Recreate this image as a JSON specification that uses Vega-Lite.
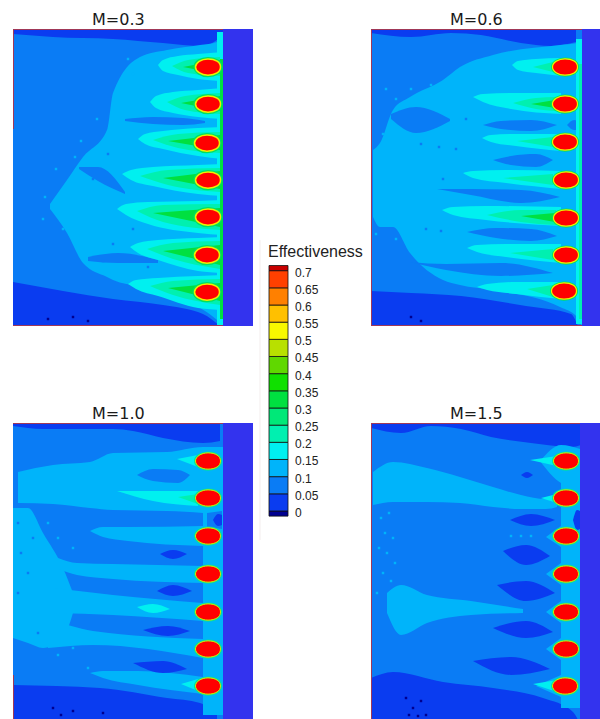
{"$schema":"https://vega.github.io/schema/vega-lite/v6.json","padding":{"left":13,"top":12,"right":0,"bottom":0},"background":"white","spacing":6,
"config":{"view":{"stroke":null},"title":{"font":"DejaVu Sans","fontSize":16,"fontWeight":"normal","color":"#1a1a1a","anchor":"start","frame":"group","offset":0,"dx":79,"dy":3}},
"datasets":{
"holes":[{"p":"a","x":195,"y":38},{"p":"a","x":195,"y":75},{"p":"a","x":194,"y":114},{"p":"a","x":195,"y":151},{"p":"a","x":195,"y":188},{"p":"a","x":194,"y":226},{"p":"a","x":194,"y":263},
{"p":"b","x":194,"y":38},{"p":"b","x":194,"y":75},{"p":"b","x":194,"y":113},{"p":"b","x":195,"y":151},{"p":"b","x":195,"y":189},{"p":"b","x":195,"y":226},{"p":"b","x":193,"y":262},
{"p":"c","x":195,"y":38},{"p":"c","x":195,"y":75},{"p":"c","x":195,"y":113},{"p":"c","x":195,"y":151},{"p":"c","x":195,"y":189},{"p":"c","x":195,"y":226},{"p":"c","x":195,"y":263},
{"p":"d","x":195,"y":38},{"p":"d","x":195,"y":75},{"p":"d","x":195,"y":113},{"p":"d","x":195,"y":151},{"p":"d","x":195,"y":189},{"p":"d","x":195,"y":226},{"p":"d","x":194,"y":263}],
"spk":[
{"p":"a","e":0.1,"x":32,"y":168},{"p":"a","e":0.1,"x":30,"y":190},{"p":"a","e":0.1,"x":43,"y":140},{"p":"a","e":0.1,"x":50,"y":200},{"p":"a","e":0.1,"x":62,"y":128},{"p":"a","e":0.1,"x":68,"y":112},{"p":"a","e":0.1,"x":84,"y":90},{"p":"a","e":0.1,"x":120,"y":45},{"p":"a","e":0.1,"x":115,"y":30},{"p":"a","e":0.05,"x":80,"y":150},{"p":"a","e":0.05,"x":95,"y":125},{"p":"a","e":0.05,"x":100,"y":215},{"p":"a","e":0.05,"x":120,"y":200},{"p":"a","e":0.05,"x":90,"y":232},{"p":"a","e":0.05,"x":135,"y":238},{"p":"a","e":"base","x":35,"y":290},{"p":"a","e":"base","x":60,"y":288},{"p":"a","e":"base","x":75,"y":292},
{"p":"b","e":0.1,"x":15,"y":60},{"p":"b","e":0.1,"x":25,"y":70},{"p":"b","e":0.1,"x":12,"y":105},{"p":"b","e":0.1,"x":40,"y":60},{"p":"b","e":0.1,"x":60,"y":56},{"p":"b","e":0.1,"x":5,"y":205},{"p":"b","e":0.1,"x":25,"y":210},{"p":"b","e":0.05,"x":50,"y":115},{"p":"b","e":0.05,"x":68,"y":118},{"p":"b","e":0.05,"x":72,"y":150},{"p":"b","e":0.05,"x":85,"y":120},{"p":"b","e":0.05,"x":55,"y":200},{"p":"b","e":0.05,"x":70,"y":202},{"p":"b","e":0.05,"x":95,"y":90},{"p":"b","e":"base","x":40,"y":288},{"p":"b","e":"base","x":50,"y":292},
{"p":"c","e":0.1,"x":35,"y":100},{"p":"c","e":0.1,"x":45,"y":115},{"p":"c","e":0.1,"x":40,"y":130},{"p":"c","e":0.1,"x":60,"y":125},{"p":"c","e":0.1,"x":60,"y":225},{"p":"c","e":0.1,"x":45,"y":232},{"p":"c","e":0.1,"x":75,"y":245},{"p":"c","e":0.05,"x":5,"y":100},{"p":"c","e":0.05,"x":8,"y":130},{"p":"c","e":0.05,"x":15,"y":150},{"p":"c","e":0.05,"x":5,"y":170},{"p":"c","e":0.05,"x":20,"y":115},{"p":"c","e":0.05,"x":25,"y":210},{"p":"c","e":"base","x":40,"y":285},{"p":"c","e":"base","x":48,"y":292},{"p":"c","e":"base","x":60,"y":288},{"p":"c","e":"base","x":90,"y":290},
{"p":"d","e":0.1,"x":10,"y":95},{"p":"d","e":0.1,"x":18,"y":90},{"p":"d","e":0.1,"x":14,"y":110},{"p":"d","e":0.1,"x":22,"y":115},{"p":"d","e":0.1,"x":8,"y":125},{"p":"d","e":0.1,"x":16,"y":130},{"p":"d","e":0.1,"x":24,"y":140},{"p":"d","e":0.1,"x":12,"y":150},{"p":"d","e":0.1,"x":20,"y":158},{"p":"d","e":0.1,"x":6,"y":170},{"p":"d","e":0.1,"x":140,"y":113},{"p":"d","e":0.1,"x":150,"y":113},{"p":"d","e":0.1,"x":160,"y":113},{"p":"d","e":"base","x":35,"y":275},{"p":"d","e":"base","x":42,"y":285},{"p":"d","e":"base","x":50,"y":278},{"p":"d","e":"base","x":55,"y":292},{"p":"d","e":"base","x":38,"y":292},{"p":"d","e":"base","x":47,"y":293}],
"a":[
{"k":1,"e":0.05,"x":0,"y":0,"y2":297},{"k":1,"e":0.05,"x":210,"y":0,"y2":297},
{"k":2,"e":0,"x":0,"y":0,"y2":5},{"k":2,"e":0,"x":40,"y":0,"y2":8},{"k":2,"e":0,"x":100,"y":0,"y2":10},{"k":2,"e":0,"x":150,"y":0,"y2":14},{"k":2,"e":0,"x":190,"y":0,"y2":17},{"k":2,"e":0,"x":210,"y":0,"y2":6},
{"k":3,"e":0,"x":0,"y":253,"y2":297},{"k":3,"e":0,"x":50,"y":262,"y2":297},{"k":3,"e":0,"x":100,"y":270,"y2":297},{"k":3,"e":0,"x":150,"y":276,"y2":297},{"k":3,"e":0,"x":190,"y":285,"y2":297},{"k":3,"e":0,"x":207,"y":297,"y2":297},
{"k":4,"e":0.1,"x":37,"y":175,"y2":180},{"k":4,"e":0.1,"x":54,"y":151,"y2":204},{"k":4,"e":0.1,"x":70,"y":128,"y2":234},{"k":4,"e":0.1,"x":94,"y":101,"y2":248},{"k":4,"e":0.1,"x":100,"y":64,"y2":251},{"k":4,"e":0.1,"x":127,"y":28,"y2":258},{"k":4,"e":0.1,"x":154,"y":21,"y2":268},{"k":4,"e":0.1,"x":187,"y":16,"y2":279},{"k":4,"e":0.1,"x":204,"y":13,"y2":291},{"k":4,"e":0.1,"x":210,"y":10,"y2":297},
{"k":5,"e":0.05,"x":112,"y":90,"y2":92},{"k":5,"e":0.05,"x":140,"y":88,"y2":95},{"k":5,"e":0.05,"x":170,"y":89,"y2":96},{"k":5,"e":0.05,"x":192,"y":92,"y2":94},
{"k":6,"e":0.05,"x":66,"y":138,"y2":140},{"k":6,"e":0.05,"x":85,"y":138,"y2":152},{"k":6,"e":0.05,"x":112,"y":163,"y2":165},
{"k":7,"e":0.05,"x":75,"y":228,"y2":232},{"k":7,"e":0.05,"x":105,"y":224,"y2":234},{"k":7,"e":0.05,"x":145,"y":231,"y2":234},
{"k":8,"e":0.15,"x":145,"y":36,"y2":36},{"k":8,"e":0.15,"x":150,"y":31,"y2":42},{"k":8,"e":0.15,"x":165,"y":27,"y2":46},{"k":8,"e":0.15,"x":185,"y":25,"y2":50},{"k":8,"e":0.15,"x":210,"y":23,"y2":52},
{"k":9,"e":0.15,"x":137,"y":73,"y2":73},{"k":9,"e":0.15,"x":143,"y":67,"y2":79},{"k":9,"e":0.15,"x":160,"y":63,"y2":84},{"k":9,"e":0.15,"x":185,"y":61,"y2":88},{"k":9,"e":0.15,"x":210,"y":59,"y2":90},
{"k":10,"e":0.15,"x":125,"y":110,"y2":110},{"k":10,"e":0.15,"x":132,"y":105,"y2":115},{"k":10,"e":0.15,"x":150,"y":102,"y2":120},{"k":10,"e":0.15,"x":185,"y":99,"y2":127},{"k":10,"e":0.15,"x":210,"y":98,"y2":130},
{"k":11,"e":0.15,"x":109,"y":145,"y2":145},{"k":11,"e":0.15,"x":118,"y":141,"y2":151},{"k":11,"e":0.15,"x":140,"y":138,"y2":157},{"k":11,"e":0.15,"x":185,"y":136,"y2":165},{"k":11,"e":0.15,"x":210,"y":135,"y2":167},
{"k":12,"e":0.15,"x":104,"y":180,"y2":180},{"k":12,"e":0.15,"x":113,"y":175,"y2":186},{"k":12,"e":0.15,"x":135,"y":173,"y2":195},{"k":12,"e":0.15,"x":185,"y":172,"y2":204},{"k":12,"e":0.15,"x":210,"y":171,"y2":206},
{"k":13,"e":0.15,"x":117,"y":218,"y2":218},{"k":13,"e":0.15,"x":125,"y":214,"y2":224},{"k":13,"e":0.15,"x":145,"y":211,"y2":231},{"k":13,"e":0.15,"x":185,"y":209,"y2":242},{"k":13,"e":0.15,"x":210,"y":208,"y2":244},
{"k":14,"e":0.15,"x":115,"y":255,"y2":255},{"k":14,"e":0.15,"x":123,"y":251,"y2":260},{"k":14,"e":0.15,"x":145,"y":249,"y2":267},{"k":14,"e":0.15,"x":185,"y":247,"y2":279},{"k":14,"e":0.15,"x":210,"y":246,"y2":281},
{"k":15,"e":0.15,"x":204,"y":3,"y2":297},{"k":15,"e":0.15,"x":210,"y":3,"y2":297},
{"k":16,"e":0.2,"x":159,"y":37,"y2":37},{"k":16,"e":0.2,"x":175,"y":31,"y2":44},{"k":16,"e":0.2,"x":207,"y":28,"y2":47},
{"k":17,"e":0.2,"x":154,"y":73,"y2":73},{"k":17,"e":0.2,"x":172,"y":67,"y2":81},{"k":17,"e":0.2,"x":207,"y":64,"y2":85},
{"k":18,"e":0.2,"x":140,"y":111,"y2":111},{"k":18,"e":0.2,"x":165,"y":105,"y2":119},{"k":18,"e":0.2,"x":207,"y":103,"y2":124},
{"k":19,"e":0.2,"x":127,"y":147,"y2":147},{"k":19,"e":0.2,"x":155,"y":141,"y2":156},{"k":19,"e":0.2,"x":207,"y":139,"y2":163},
{"k":20,"e":0.2,"x":124,"y":182,"y2":182},{"k":20,"e":0.2,"x":150,"y":176,"y2":193},{"k":20,"e":0.2,"x":207,"y":175,"y2":201},
{"k":21,"e":0.2,"x":134,"y":220,"y2":220},{"k":21,"e":0.2,"x":160,"y":214,"y2":230},{"k":21,"e":0.2,"x":207,"y":212,"y2":240},
{"k":22,"e":0.2,"x":137,"y":257,"y2":257},{"k":22,"e":0.2,"x":160,"y":252,"y2":266},{"k":22,"e":0.2,"x":207,"y":250,"y2":276},
{"k":23,"e":0.3,"x":170,"y":38,"y2":38},{"k":23,"e":0.3,"x":207,"y":31,"y2":45},
{"k":24,"e":0.3,"x":168,"y":74,"y2":74},{"k":24,"e":0.3,"x":207,"y":67,"y2":82},
{"k":25,"e":0.3,"x":155,"y":112,"y2":112},{"k":25,"e":0.3,"x":207,"y":106,"y2":121},
{"k":26,"e":0.3,"x":150,"y":149,"y2":149},{"k":26,"e":0.3,"x":207,"y":142,"y2":160},
{"k":27,"e":0.3,"x":140,"y":184,"y2":184},{"k":27,"e":0.3,"x":207,"y":179,"y2":198},
{"k":28,"e":0.3,"x":150,"y":222,"y2":222},{"k":28,"e":0.3,"x":207,"y":216,"y2":236},
{"k":29,"e":0.3,"x":155,"y":259,"y2":259},{"k":29,"e":0.3,"x":207,"y":254,"y2":272},
{"k":30,"e":0.3,"x":207,"y":30,"y2":290},{"k":30,"e":0.3,"x":210,"y":30,"y2":290},
{"k":31,"e":"wall","x":210,"y":0,"y2":297},{"k":31,"e":"wall","x":240,"y":0,"y2":297},
{"k":32,"e":"edge","x":0,"y":0,"y2":1},{"k":32,"e":"edge","x":210,"y":0,"y2":1},
{"k":33,"e":"edge","x":0,"y":296,"y2":297},{"k":33,"e":"edge","x":210,"y":296,"y2":297},
{"k":34,"e":"edge","x":0,"y":0,"y2":100},{"k":34,"e":"edge","x":1,"y":0,"y2":100}],
"b":[
{"k":1,"e":0.05,"x":0,"y":0,"y2":297},{"k":1,"e":0.05,"x":211,"y":0,"y2":297},
{"k":2,"e":0,"x":0,"y":0,"y2":4},{"k":2,"e":0,"x":40,"y":0,"y2":8},{"k":2,"e":0,"x":80,"y":0,"y2":4},{"k":2,"e":0,"x":110,"y":0,"y2":6},{"k":2,"e":0,"x":150,"y":0,"y2":14},{"k":2,"e":0,"x":180,"y":0,"y2":17},{"k":2,"e":0,"x":205,"y":0,"y2":13},
{"k":3,"e":0,"x":0,"y":262,"y2":297},{"k":3,"e":0,"x":40,"y":264,"y2":297},{"k":3,"e":0,"x":90,"y":267,"y2":297},{"k":3,"e":0,"x":155,"y":277,"y2":297},{"k":3,"e":0,"x":200,"y":285,"y2":297},{"k":3,"e":0,"x":207,"y":297,"y2":297},
{"k":4,"e":0.1,"x":2,"y":121,"y2":188},{"k":4,"e":0.1,"x":9,"y":114,"y2":198},{"k":4,"e":0.1,"x":22,"y":81,"y2":198},{"k":4,"e":0.1,"x":39,"y":68,"y2":224},{"k":4,"e":0.1,"x":72,"y":51,"y2":251},{"k":4,"e":0.1,"x":89,"y":38,"y2":256},{"k":4,"e":0.1,"x":122,"y":26,"y2":261},{"k":4,"e":0.1,"x":189,"y":16,"y2":278},{"k":4,"e":0.1,"x":206,"y":14,"y2":288},{"k":4,"e":0.1,"x":211,"y":12,"y2":297},
{"k":5,"e":0.05,"x":20,"y":85,"y2":90},{"k":5,"e":0.05,"x":45,"y":78,"y2":104},{"k":5,"e":0.05,"x":79,"y":90,"y2":92},
{"k":6,"e":0.05,"x":112,"y":96,"y2":96},{"k":6,"e":0.05,"x":130,"y":92,"y2":100},{"k":6,"e":0.05,"x":160,"y":91,"y2":102},{"k":6,"e":0.05,"x":186,"y":96,"y2":96},
{"k":7,"e":0.05,"x":122,"y":131,"y2":131},{"k":7,"e":0.05,"x":140,"y":127,"y2":136},{"k":7,"e":0.05,"x":165,"y":125,"y2":138},{"k":7,"e":0.05,"x":182,"y":131,"y2":131},
{"k":8,"e":0.05,"x":66,"y":160,"y2":160},{"k":8,"e":0.05,"x":100,"y":160,"y2":166},{"k":8,"e":0.05,"x":150,"y":161,"y2":174},{"k":8,"e":0.05,"x":189,"y":168,"y2":168},
{"k":9,"e":0.05,"x":96,"y":203,"y2":203},{"k":9,"e":0.05,"x":125,"y":199,"y2":209},{"k":9,"e":0.05,"x":160,"y":200,"y2":212},{"k":9,"e":0.05,"x":186,"y":207,"y2":207},
{"k":10,"e":0.05,"x":39,"y":233,"y2":233},{"k":10,"e":0.05,"x":75,"y":235,"y2":241},{"k":10,"e":0.05,"x":130,"y":234,"y2":247},{"k":10,"e":0.05,"x":182,"y":244,"y2":244},
{"k":11,"e":0.05,"x":196,"y":96,"y2":96},{"k":11,"e":0.05,"x":203,"y":91,"y2":101},{"k":11,"e":0.05,"x":209,"y":93,"y2":101},
{"k":12,"e":0.15,"x":141,"y":36,"y2":36},{"k":12,"e":0.15,"x":147,"y":32,"y2":41},{"k":12,"e":0.15,"x":165,"y":30,"y2":44},{"k":12,"e":0.15,"x":190,"y":29,"y2":47},
{"k":13,"e":0.15,"x":102,"y":68,"y2":68},{"k":13,"e":0.15,"x":112,"y":65,"y2":73},{"k":13,"e":0.15,"x":140,"y":64,"y2":80},{"k":13,"e":0.15,"x":190,"y":64,"y2":85},
{"k":14,"e":0.15,"x":111,"y":109,"y2":109},{"k":14,"e":0.15,"x":120,"y":106,"y2":113},{"k":14,"e":0.15,"x":145,"y":105,"y2":117},{"k":14,"e":0.15,"x":190,"y":105,"y2":122},
{"k":15,"e":0.15,"x":92,"y":144,"y2":144},{"k":15,"e":0.15,"x":102,"y":142,"y2":149},{"k":15,"e":0.15,"x":135,"y":141,"y2":154},{"k":15,"e":0.15,"x":190,"y":142,"y2":160},
{"k":16,"e":0.15,"x":71,"y":181,"y2":181},{"k":16,"e":0.15,"x":82,"y":178,"y2":186},{"k":16,"e":0.15,"x":115,"y":177,"y2":191},{"k":16,"e":0.15,"x":190,"y":178,"y2":197},
{"k":17,"e":0.15,"x":96,"y":219,"y2":219},{"k":17,"e":0.15,"x":106,"y":216,"y2":223},{"k":17,"e":0.15,"x":135,"y":215,"y2":228},{"k":17,"e":0.15,"x":190,"y":215,"y2":234},
{"k":18,"e":0.15,"x":106,"y":258,"y2":258},{"k":18,"e":0.15,"x":116,"y":255,"y2":261},{"k":18,"e":0.15,"x":145,"y":253,"y2":265},{"k":18,"e":0.15,"x":190,"y":253,"y2":270},
{"k":19,"e":0.15,"x":205,"y":10,"y2":295},{"k":19,"e":0.15,"x":211,"y":10,"y2":295},
{"k":20,"e":0.2,"x":162,"y":38,"y2":38},{"k":20,"e":0.2,"x":182,"y":33,"y2":43},
{"k":21,"e":0.2,"x":142,"y":74,"y2":74},{"k":21,"e":0.2,"x":165,"y":69,"y2":80},{"k":21,"e":0.2,"x":185,"y":68,"y2":82},
{"k":22,"e":0.2,"x":146,"y":112,"y2":112},{"k":22,"e":0.2,"x":182,"y":108,"y2":118},
{"k":23,"e":0.2,"x":132,"y":149,"y2":149},{"k":23,"e":0.2,"x":182,"y":145,"y2":156},
{"k":24,"e":0.2,"x":116,"y":186,"y2":186},{"k":24,"e":0.2,"x":150,"y":181,"y2":193},{"k":24,"e":0.2,"x":185,"y":181,"y2":196},
{"k":25,"e":0.2,"x":139,"y":224,"y2":224},{"k":25,"e":0.2,"x":182,"y":220,"y2":231},
{"k":26,"e":0.2,"x":156,"y":260,"y2":260},{"k":26,"e":0.2,"x":182,"y":256,"y2":268},
{"k":27,"e":0.3,"x":160,"y":75,"y2":75},{"k":27,"e":0.3,"x":184,"y":71,"y2":79},
{"k":28,"e":0.3,"x":150,"y":187,"y2":187},{"k":28,"e":0.3,"x":184,"y":184,"y2":193},
{"k":29,"e":0.2,"x":208,"y":35,"y2":290},{"k":29,"e":0.2,"x":211,"y":35,"y2":290},
{"k":30,"e":"wall","x":211,"y":-1,"y2":297},{"k":30,"e":"wall","x":229,"y":-1,"y2":297},
{"k":31,"e":"edge","x":0,"y":0,"y2":1},{"k":31,"e":"edge","x":211,"y":0,"y2":1},
{"k":32,"e":"edge","x":0,"y":296,"y2":297},{"k":32,"e":"edge","x":211,"y":296,"y2":297},
{"k":33,"e":"edge","x":0,"y":0,"y2":297},{"k":33,"e":"edge","x":1,"y":0,"y2":297}],
"c":[
{"k":1,"e":0.05,"x":0,"y":0,"y2":297},{"k":1,"e":0.05,"x":210,"y":0,"y2":297},
{"k":2,"e":0,"x":0,"y":0,"y2":3},{"k":2,"e":0,"x":30,"y":0,"y2":6},{"k":2,"e":0,"x":100,"y":0,"y2":6},{"k":2,"e":0,"x":120,"y":0,"y2":8},{"k":2,"e":0,"x":150,"y":0,"y2":15},{"k":2,"e":0,"x":190,"y":0,"y2":20},{"k":2,"e":0,"x":207,"y":0,"y2":18},
{"k":3,"e":0,"x":0,"y":262,"y2":297},{"k":3,"e":0,"x":87,"y":265,"y2":297},{"k":3,"e":0,"x":154,"y":275,"y2":297},{"k":3,"e":0,"x":187,"y":280,"y2":297},{"k":3,"e":0,"x":204,"y":292,"y2":297},
{"k":4,"e":0.1,"x":5,"y":49,"y2":80},{"k":4,"e":0.1,"x":40,"y":42,"y2":81},{"k":4,"e":0.1,"x":77,"y":39,"y2":85},{"k":4,"e":0.1,"x":100,"y":30,"y2":87},{"k":4,"e":0.1,"x":154,"y":29,"y2":88},{"k":4,"e":0.1,"x":190,"y":24,"y2":90},{"k":4,"e":0.1,"x":210,"y":24,"y2":93},
{"k":5,"e":0.05,"x":124,"y":52,"y2":52},{"k":5,"e":0.05,"x":140,"y":46,"y2":58},{"k":5,"e":0.05,"x":165,"y":47,"y2":60},{"k":5,"e":0.05,"x":177,"y":52,"y2":52},
{"k":6,"e":0.1,"x":0,"y":85,"y2":215},{"k":6,"e":0.1,"x":15,"y":85,"y2":220},{"k":6,"e":0.1,"x":30,"y":110,"y2":225},{"k":6,"e":0.1,"x":50,"y":145,"y2":215},{"k":6,"e":0.1,"x":60,"y":170,"y2":190},
{"k":7,"e":0.1,"x":77,"y":108,"y2":108},{"k":7,"e":0.1,"x":90,"y":104,"y2":114},{"k":7,"e":0.1,"x":115,"y":104,"y2":118},{"k":7,"e":0.1,"x":190,"y":103,"y2":123},
{"k":8,"e":0.1,"x":45,"y":135,"y2":146},{"k":8,"e":0.1,"x":64,"y":140,"y2":152},{"k":8,"e":0.1,"x":100,"y":141,"y2":156},{"k":8,"e":0.1,"x":190,"y":143,"y2":160},
{"k":9,"e":0.1,"x":40,"y":165,"y2":190},{"k":9,"e":0.1,"x":100,"y":172,"y2":192},{"k":9,"e":0.1,"x":190,"y":180,"y2":198},
{"k":10,"e":0.1,"x":35,"y":195,"y2":225},{"k":10,"e":0.1,"x":80,"y":208,"y2":222},{"k":10,"e":0.1,"x":190,"y":216,"y2":235},
{"k":11,"e":0.1,"x":77,"y":250,"y2":250},{"k":11,"e":0.1,"x":90,"y":248,"y2":255},{"k":11,"e":0.1,"x":125,"y":248,"y2":262},{"k":11,"e":0.1,"x":190,"y":254,"y2":271},
{"k":12,"e":0.1,"x":190,"y":24,"y2":292},{"k":12,"e":0.1,"x":210,"y":24,"y2":292},
{"k":13,"e":0.05,"x":194,"y":90,"y2":104},{"k":13,"e":0.05,"x":209,"y":88,"y2":106},
{"k":14,"e":0.15,"x":104,"y":68,"y2":68},{"k":14,"e":0.15,"x":140,"y":68,"y2":78},{"k":14,"e":0.15,"x":185,"y":68,"y2":83},
{"k":15,"e":0.15,"x":164,"y":36,"y2":36},{"k":15,"e":0.15,"x":185,"y":32,"y2":44},
{"k":16,"e":0.15,"x":124,"y":184,"y2":184},{"k":16,"e":0.15,"x":140,"y":181,"y2":190},{"k":16,"e":0.15,"x":157,"y":186,"y2":186},
{"k":17,"e":0.15,"x":168,"y":261,"y2":261},{"k":17,"e":0.15,"x":185,"y":256,"y2":268},
{"k":18,"e":0.2,"x":165,"y":74,"y2":74},{"k":18,"e":0.2,"x":185,"y":71,"y2":81},
{"k":19,"e":0,"x":147,"y":131,"y2":131},{"k":19,"e":0,"x":160,"y":127,"y2":136},{"k":19,"e":0,"x":174,"y":131,"y2":131},
{"k":20,"e":0,"x":144,"y":168,"y2":168},{"k":20,"e":0,"x":160,"y":162,"y2":173},{"k":20,"e":0,"x":179,"y":168,"y2":168},
{"k":21,"e":0,"x":130,"y":207,"y2":207},{"k":21,"e":0,"x":155,"y":203,"y2":213},{"k":21,"e":0,"x":177,"y":208,"y2":208},
{"k":22,"e":0,"x":120,"y":240,"y2":240},{"k":22,"e":0,"x":150,"y":238,"y2":250},{"k":22,"e":0,"x":174,"y":246,"y2":246},
{"k":23,"e":0,"x":200,"y":97,"y2":97},{"k":23,"e":0,"x":205,"y":91,"y2":103},{"k":23,"e":0,"x":209,"y":92,"y2":102},
{"k":24,"e":"wall","x":210,"y":-1,"y2":297},{"k":24,"e":"wall","x":240,"y":-1,"y2":297},
{"k":25,"e":"edge","x":0,"y":0,"y2":1},{"k":25,"e":"edge","x":210,"y":0,"y2":1},
{"k":26,"e":"edge","x":0,"y":252,"y2":297},{"k":26,"e":"edge","x":1,"y":252,"y2":297}],
"d":[
{"k":1,"e":0.05,"x":0,"y":0,"y2":297},{"k":1,"e":0.05,"x":210,"y":0,"y2":297},
{"k":2,"e":0,"x":0,"y":0,"y2":5},{"k":2,"e":0,"x":30,"y":0,"y2":10},{"k":2,"e":0,"x":60,"y":0,"y2":3},{"k":2,"e":0,"x":90,"y":0,"y2":6},{"k":2,"e":0,"x":120,"y":0,"y2":14},{"k":2,"e":0,"x":160,"y":0,"y2":20},{"k":2,"e":0,"x":200,"y":0,"y2":24},{"k":2,"e":0,"x":210,"y":0,"y2":22},
{"k":3,"e":0,"x":0,"y":255,"y2":297},{"k":3,"e":0,"x":22,"y":249,"y2":297},{"k":3,"e":0,"x":72,"y":259,"y2":297},{"k":3,"e":0,"x":122,"y":265,"y2":297},{"k":3,"e":0,"x":172,"y":275,"y2":297},{"k":3,"e":0,"x":202,"y":289,"y2":297},{"k":3,"e":0,"x":207,"y":297,"y2":297},
{"k":4,"e":0.1,"x":2,"y":49,"y2":82},{"k":4,"e":0.1,"x":22,"y":39,"y2":79},{"k":4,"e":0.1,"x":56,"y":45,"y2":79},{"k":4,"e":0.1,"x":89,"y":54,"y2":80},{"k":4,"e":0.1,"x":122,"y":64,"y2":84},{"k":4,"e":0.1,"x":150,"y":72,"y2":86},{"k":4,"e":0.1,"x":175,"y":76,"y2":86},{"k":4,"e":0.1,"x":186,"y":72,"y2":84},
{"k":5,"e":0.1,"x":16,"y":170,"y2":190},{"k":5,"e":0.1,"x":30,"y":162,"y2":212},{"k":5,"e":0.1,"x":56,"y":172,"y2":200},{"k":5,"e":0.1,"x":100,"y":178,"y2":192},{"k":5,"e":0.1,"x":152,"y":186,"y2":190},
{"k":7,"e":0.1,"x":169,"y":38,"y2":38},{"k":7,"e":0.1,"x":190,"y":22,"y2":60},{"k":7,"e":0.1,"x":209,"y":26,"y2":65},
{"k":8,"e":0.1,"x":175,"y":114,"y2":114},{"k":8,"e":0.1,"x":190,"y":103,"y2":124},
{"k":9,"e":0.1,"x":175,"y":151,"y2":151},{"k":9,"e":0.1,"x":190,"y":140,"y2":162},
{"k":10,"e":0.1,"x":175,"y":189,"y2":189},{"k":10,"e":0.1,"x":190,"y":178,"y2":200},
{"k":11,"e":0.1,"x":175,"y":226,"y2":226},{"k":11,"e":0.1,"x":190,"y":215,"y2":237},
{"k":12,"e":0.1,"x":165,"y":263,"y2":263},{"k":12,"e":0.1,"x":190,"y":252,"y2":274},
{"k":13,"e":0.1,"x":190,"y":60,"y2":285},{"k":13,"e":0.1,"x":209,"y":60,"y2":285},
{"k":14,"e":0.15,"x":159,"y":37,"y2":37},{"k":14,"e":0.15,"x":186,"y":33,"y2":43},
{"k":15,"e":0.15,"x":170,"y":75,"y2":75},{"k":15,"e":0.15,"x":186,"y":71,"y2":80},
{"k":16,"e":0.15,"x":162,"y":261,"y2":261},{"k":16,"e":0.15,"x":186,"y":257,"y2":269},
{"k":17,"e":0,"x":139,"y":97,"y2":97},{"k":17,"e":0,"x":160,"y":91,"y2":103},{"k":17,"e":0,"x":184,"y":97,"y2":97},
{"k":18,"e":0,"x":132,"y":128,"y2":128},{"k":18,"e":0,"x":155,"y":122,"y2":142},{"k":18,"e":0,"x":179,"y":133,"y2":133},
{"k":19,"e":0,"x":126,"y":162,"y2":162},{"k":19,"e":0,"x":155,"y":158,"y2":178},{"k":19,"e":0,"x":184,"y":170,"y2":170},
{"k":20,"e":0,"x":122,"y":205,"y2":205},{"k":20,"e":0,"x":155,"y":198,"y2":215},{"k":20,"e":0,"x":182,"y":209,"y2":209},
{"k":21,"e":0,"x":102,"y":238,"y2":238},{"k":21,"e":0,"x":140,"y":234,"y2":252},{"k":21,"e":0,"x":179,"y":246,"y2":246},
{"k":22,"e":0,"x":150,"y":52,"y2":52},{"k":22,"e":0,"x":156,"y":49,"y2":55},{"k":22,"e":0,"x":162,"y":52,"y2":52},
{"k":23,"e":0,"x":202,"y":97,"y2":97},{"k":23,"e":0,"x":206,"y":87,"y2":107},{"k":23,"e":0,"x":209,"y":88,"y2":106},
{"k":24,"e":"wall","x":209,"y":-1,"y2":297},{"k":24,"e":"wall","x":229,"y":-1,"y2":297},
{"k":25,"e":"edge","x":0,"y":0,"y2":1},{"k":25,"e":"edge","x":209,"y":0,"y2":1},
{"k":26,"e":"edge","x":0,"y":0,"y2":297},{"k":26,"e":"edge","x":1,"y":0,"y2":297}],
"bands":[{"lo":-0.015,"hi":0,"e":"base"},{"lo":0,"hi":0.05,"e":0},{"lo":0.05,"hi":0.1,"e":0.05},{"lo":0.1,"hi":0.15,"e":0.1},{"lo":0.15,"hi":0.2,"e":0.15},{"lo":0.2,"hi":0.25,"e":0.2},{"lo":0.25,"hi":0.3,"e":0.25},{"lo":0.3,"hi":0.35,"e":0.3},{"lo":0.35,"hi":0.4,"e":0.35},{"lo":0.4,"hi":0.45,"e":0.4},{"lo":0.45,"hi":0.5,"e":0.45},{"lo":0.5,"hi":0.55,"e":0.5},{"lo":0.55,"hi":0.6,"e":0.55},{"lo":0.6,"hi":0.65,"e":0.6},{"lo":0.65,"hi":0.7,"e":0.65},{"lo":0.7,"hi":0.715,"e":"top"}],
"ticks":[{"v":0.7,"t":"0.7"},{"v":0.65,"t":"0.65"},{"v":0.6,"t":"0.6"},{"v":0.55,"t":"0.55"},{"v":0.5,"t":"0.5"},{"v":0.45,"t":"0.45"},{"v":0.4,"t":"0.4"},{"v":0.35,"t":"0.35"},{"v":0.3,"t":"0.3"},{"v":0.25,"t":"0.25"},{"v":0.2,"t":"0.2"},{"v":0.15,"t":"0.15"},{"v":0.1,"t":"0.1"},{"v":0.05,"t":"0.05"},{"v":0,"t":"0"}]
},
"hconcat":[
{"bounds":"flush","spacing":97,"vconcat":[
{"title":"M=0.3","width":240,"height":297,"encoding":{"x":{"field":"x","type":"quantitative","scale":{"domain":[0,240],"nice":false},"axis":null},"y":{"field":"y","type":"quantitative","stack":null,"scale":{"domain":[297,0],"nice":false},"axis":null}},"layer":[
{"data":{"name":"a"},"mark":{"type":"area","orient":"vertical","interpolate":"monotone","clip":true},"encoding":{"y2":{"field":"y2"},"detail":{"field":"k"},"color":{"field":"e","type":"nominal","legend":null,"scale":{"domain":["wall","edge","base","top",0,0.05,0.1,0.15,0.2,0.25,0.3,0.35,0.4,0.45,0.5,0.55,0.6,0.65],"range":["#3333ee","#a03858","#000090","#c80000","#0a3cf0","#0a7cf5","#00b4fa","#00f0f0","#00f0b0","#00e878","#00e040","#10e000","#60d800","#b8e000","#f8f800","#ffc000","#ff8000","#ff4000"]}}}},
{"data":{"name":"spk"},"transform":[{"filter":"datum.p==='a'"}],"mark":{"type":"point","shape":"square","filled":true,"size":6,"opacity":1},"encoding":{"color":{"field":"e","type":"nominal","legend":null}}},
{"data":{"name":"holes"},"transform":[{"filter":"datum.p==='a'"}],"mark":{"type":"point","filled":true,"fill":"#00e060","stroke":"#00e060","strokeWidth":4,"size":625,"opacity":1,"shape":"M-1,0C-1,-.35 -.55,-.65 0,-.65C.6,-.65 1,-.4 1,0C1,.4 .6,.65 0,.65C-.55,.65 -1,.35 -1,0Z"}},
{"data":{"name":"holes"},"transform":[{"filter":"datum.p==='a'"}],"mark":{"type":"point","filled":true,"fill":"#ff0000","stroke":"#f0f000","strokeWidth":1.5,"size":625,"opacity":1,"shape":"M-1,0C-1,-.35 -.55,-.65 0,-.65C.6,-.65 1,-.4 1,0C1,.4 .6,.65 0,.65C-.55,.65 -1,.35 -1,0Z"}}]},
{"title":"M=1.0","width":240,"height":297,"encoding":{"x":{"field":"x","type":"quantitative","scale":{"domain":[0,240],"nice":false},"axis":null},"y":{"field":"y","type":"quantitative","stack":null,"scale":{"domain":[297,0],"nice":false},"axis":null}},"layer":[
{"data":{"name":"c"},"mark":{"type":"area","orient":"vertical","interpolate":"monotone","clip":true},"encoding":{"y2":{"field":"y2"},"detail":{"field":"k"},"color":{"field":"e","type":"nominal","legend":null,"scale":{"domain":["wall","edge","base","top",0,0.05,0.1,0.15,0.2,0.25,0.3,0.35,0.4,0.45,0.5,0.55,0.6,0.65],"range":["#3333ee","#a03858","#000090","#c80000","#0a3cf0","#0a7cf5","#00b4fa","#00f0f0","#00f0b0","#00e878","#00e040","#10e000","#60d800","#b8e000","#f8f800","#ffc000","#ff8000","#ff4000"]}}}},
{"data":{"name":"spk"},"transform":[{"filter":"datum.p==='c'"}],"mark":{"type":"point","shape":"square","filled":true,"size":6,"opacity":1},"encoding":{"color":{"field":"e","type":"nominal","legend":null}}},
{"data":{"name":"holes"},"transform":[{"filter":"datum.p==='c'"}],"mark":{"type":"point","filled":true,"fill":"#00e0a0","stroke":"#00e0a0","strokeWidth":3,"size":625,"opacity":1,"shape":"M-1,0C-1,-.35 -.55,-.65 0,-.65C.6,-.65 1,-.4 1,0C1,.4 .6,.65 0,.65C-.55,.65 -1,.35 -1,0Z"}},
{"data":{"name":"holes"},"transform":[{"filter":"datum.p==='c'"}],"mark":{"type":"point","filled":true,"fill":"#ff0000","stroke":"#d8e800","strokeWidth":1,"size":625,"opacity":1,"shape":"M-1,0C-1,-.35 -.55,-.65 0,-.65C.6,-.65 1,-.4 1,0C1,.4 .6,.65 0,.65C-.55,.65 -1,.35 -1,0Z"}}]}
]},
{"width":106,"height":690,"encoding":{"x":{"datum":0,"type":"quantitative","scale":{"domain":[-10,96],"nice":false},"axis":null},"y":{"field":"lo","type":"quantitative","scale":{"domain":[-0.606,1.404],"nice":false},"axis":null}},"layer":[
{"data":{"values":[{"lo":0.789,"hi":-0.0845}]},"mark":{"type":"rule","color":"#f3eded","strokeWidth":1,"clip":false},"encoding":{"x":{"datum":-9,"type":"quantitative"},"y2":{"field":"hi"}}},
{"data":{"name":"bands"},"mark":{"type":"rect","stroke":"#101010","strokeWidth":0.8},"encoding":{"x":{"datum":0,"type":"quantitative"},"x2":{"datum":19},"y2":{"field":"hi"},"color":{"field":"e","type":"nominal","legend":null,"scale":{"domain":["wall","edge","base","top",0,0.05,0.1,0.15,0.2,0.25,0.3,0.35,0.4,0.45,0.5,0.55,0.6,0.65],"range":["#3333ee","#a03858","#000090","#c80000","#0a3cf0","#0a7cf5","#00b4fa","#00f0f0","#00f0b0","#00e878","#00e040","#10e000","#60d800","#b8e000","#f8f800","#ffc000","#ff8000","#ff4000"]}}}},
{"data":{"name":"ticks"},"mark":{"type":"text","align":"left","baseline":"middle","font":"Liberation Sans","fontSize":12,"dy":2,"color":"#222222"},"encoding":{"x":{"datum":26,"type":"quantitative"},"y":{"field":"v","type":"quantitative"},"text":{"field":"t"}}},
{"data":{"values":[{"lo":0.754,"t":"Effectiveness"}]},"mark":{"type":"text","align":"left","baseline":"middle","font":"Liberation Sans","fontSize":16,"color":"#222222"},"encoding":{"x":{"datum":-1,"type":"quantitative"},"text":{"field":"t"}}}
]},
{"bounds":"flush","spacing":97,"vconcat":[
{"title":"M=0.6","width":229,"height":297,"encoding":{"x":{"field":"x","type":"quantitative","scale":{"domain":[0,229],"nice":false},"axis":null},"y":{"field":"y","type":"quantitative","stack":null,"scale":{"domain":[297,0],"nice":false},"axis":null}},"layer":[
{"data":{"name":"b"},"mark":{"type":"area","orient":"vertical","interpolate":"monotone","clip":true},"encoding":{"y2":{"field":"y2"},"detail":{"field":"k"},"color":{"field":"e","type":"nominal","legend":null,"scale":{"domain":["wall","edge","base","top",0,0.05,0.1,0.15,0.2,0.25,0.3,0.35,0.4,0.45,0.5,0.55,0.6,0.65],"range":["#3333ee","#a03858","#000090","#c80000","#0a3cf0","#0a7cf5","#00b4fa","#00f0f0","#00f0b0","#00e878","#00e040","#10e000","#60d800","#b8e000","#f8f800","#ffc000","#ff8000","#ff4000"]}}}},
{"data":{"name":"spk"},"transform":[{"filter":"datum.p==='b'"}],"mark":{"type":"point","shape":"square","filled":true,"size":6,"opacity":1},"encoding":{"color":{"field":"e","type":"nominal","legend":null}}},
{"data":{"name":"holes"},"transform":[{"filter":"datum.p==='b'"}],"mark":{"type":"point","filled":true,"fill":"#00e060","stroke":"#00e060","strokeWidth":3,"size":625,"opacity":1,"shape":"M-1,0C-1,-.35 -.55,-.65 0,-.65C.6,-.65 1,-.4 1,0C1,.4 .6,.65 0,.65C-.55,.65 -1,.35 -1,0Z"}},
{"data":{"name":"holes"},"transform":[{"filter":"datum.p==='b'"}],"mark":{"type":"point","filled":true,"fill":"#ff0000","stroke":"#f0f000","strokeWidth":1.2,"size":625,"opacity":1,"shape":"M-1,0C-1,-.35 -.55,-.65 0,-.65C.6,-.65 1,-.4 1,0C1,.4 .6,.65 0,.65C-.55,.65 -1,.35 -1,0Z"}}]},
{"title":"M=1.5","width":229,"height":297,"encoding":{"x":{"field":"x","type":"quantitative","scale":{"domain":[0,229],"nice":false},"axis":null},"y":{"field":"y","type":"quantitative","stack":null,"scale":{"domain":[297,0],"nice":false},"axis":null}},"layer":[
{"data":{"name":"d"},"mark":{"type":"area","orient":"vertical","interpolate":"monotone","clip":true},"encoding":{"y2":{"field":"y2"},"detail":{"field":"k"},"color":{"field":"e","type":"nominal","legend":null,"scale":{"domain":["wall","edge","base","top",0,0.05,0.1,0.15,0.2,0.25,0.3,0.35,0.4,0.45,0.5,0.55,0.6,0.65],"range":["#3333ee","#a03858","#000090","#c80000","#0a3cf0","#0a7cf5","#00b4fa","#00f0f0","#00f0b0","#00e878","#00e040","#10e000","#60d800","#b8e000","#f8f800","#ffc000","#ff8000","#ff4000"]}}}},
{"data":{"name":"spk"},"transform":[{"filter":"datum.p==='d'"}],"mark":{"type":"point","shape":"square","filled":true,"size":6,"opacity":1},"encoding":{"color":{"field":"e","type":"nominal","legend":null}}},
{"data":{"name":"holes"},"transform":[{"filter":"datum.p==='d'"}],"mark":{"type":"point","filled":true,"fill":"#00e0a0","stroke":"#00e0a0","strokeWidth":3,"size":625,"opacity":1,"shape":"M-1,0C-1,-.35 -.55,-.65 0,-.65C.6,-.65 1,-.4 1,0C1,.4 .6,.65 0,.65C-.55,.65 -1,.35 -1,0Z"}},
{"data":{"name":"holes"},"transform":[{"filter":"datum.p==='d'"}],"mark":{"type":"point","filled":true,"fill":"#ff0000","stroke":"#d8e800","strokeWidth":1,"size":625,"opacity":1,"shape":"M-1,0C-1,-.35 -.55,-.65 0,-.65C.6,-.65 1,-.4 1,0C1,.4 .6,.65 0,.65C-.55,.65 -1,.35 -1,0Z"}}]}
]}
]}
